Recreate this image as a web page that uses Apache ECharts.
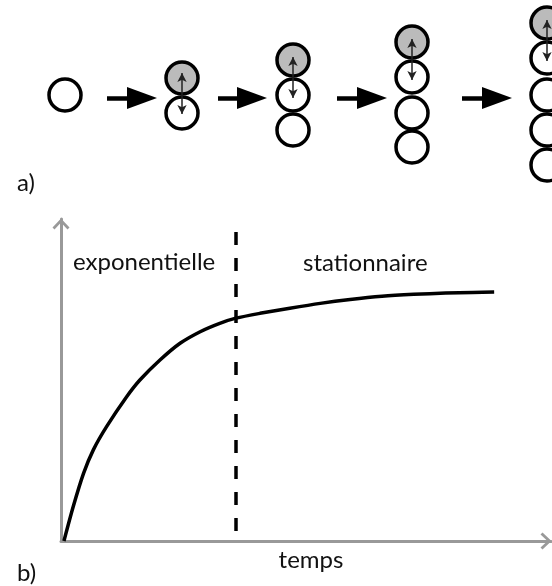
<!DOCTYPE html>
<html>
<head>
<meta charset="utf-8">
<script src="https://cdn.jsdelivr.net/npm/echarts@6/dist/echarts.min.js"></script>
<style>
  html, body { margin: 0; padding: 0; background: #fff; }
  #chart { width: 552px; height: 586px; }
</style>
</head>
<body>
<div id="chart"></div>
<script>
// panel a: cell columns (x position of each stage, y of each cell, first cell is the grey one)
const stageX = [65, 182, 293, 412, 547]
const stageCells = [
  [95],
  [78, 113],
  [60, 95, 130],
  [42, 77, 113, 147],
  [23, 58, 95, 130, 165]
]
// big black arrows between stages
const stepStart = [107, 218, 337, 462]
const stepHead = [142, 252, 372, 497]
const stepY = 98
// small double arrows inside the growing chains
const pushTop = [73, 57, 39, 20]
const pushBottom = [114, 98, 80, 61]

// panel b: growth curve
const timeValues = [0.6, 2.5, 4.6, 6.6, 9.3, 13.4, 16.1, 20.2, 24.3, 28.4, 32.4, 35.7, 40.6, 46.7, 52.9, 59, 65.5, 72, 78.5, 84, 88.4]
const sizeValues = [0, 10.7, 21.0, 28.3, 35.5, 44.8, 50.0, 56.2, 61.4, 65.0, 67.6, 69.2, 70.7, 72.3, 73.8, 75.0, 76.0, 76.6, 77.0, 77.2, 77.3]
const phaseLimit = 35.7
const phaseTop = 96

const FONT = 'Lato, "Open Sans", sans-serif'
const chevron = 'path://M0,9 L8.5,0 L17,9 L15,11 L8.5,4 L2,11 Z'

const chart = echarts.init(document.getElementById('chart'), null, { renderer: 'canvas' })

const greyCells = []
const whiteCells = []
stageCells.forEach((cells, i) => {
  cells.forEach((y, k) => {
    if (i > 0 && k === 0) greyCells.push([stageX[i], y])
    else whiteCells.push([stageX[i], y])
  })
})

const stepLines = stepStart.map((x, i) => [{ coord: [x, stepY] }, { coord: [stepHead[i], stepY] }])
const pushLines = pushTop.map((y, i) => [{ coord: [stageX[i + 1], y] }, { coord: [stageX[i + 1], pushBottom[i]] }])

const hiddenAxis = { show: false }
const bAxis = {
  type: 'value',
  min: 0,
  max: 100,
  axisLine: {
    show: true,
    symbol: ['none', chevron],
    symbolSize: [17, 11],
    symbolOffset: [0, -5],
    lineStyle: { color: '#999', width: 3 }
  },
  axisTick: { show: false },
  axisLabel: { show: false },
  splitLine: { show: false }
}

const label = (text, left, top) => ({
  type: 'text',
  left: left,
  top: top,
  style: { text: text, font: '24px ' + FONT, fill: '#111' }
})

chart.setOption({
  animation: false,
  grid: [
    { left: 0, right: 0, top: 0, height: 190 },
    { left: 61, right: 1, top: 219, bottom: 45 }
  ],
  xAxis: [
    { gridIndex: 0, type: 'value', min: 0, max: 552, ...hiddenAxis },
    {
      ...bAxis,
      gridIndex: 1,
      name: 'temps',
      nameLocation: 'middle',
      nameGap: 7,
      nameTextStyle: { color: '#111', fontSize: 24, fontFamily: FONT, verticalAlign: 'top', padding: [0, 0, 0, 10] }
    }
  ],
  yAxis: [
    { gridIndex: 0, type: 'value', min: 0, max: 190, inverse: true, ...hiddenAxis },
    { ...bAxis, gridIndex: 1 }
  ],
  graphic: [
    label('a)', 17, 171),
    label('b)', 17, 561),
    label('exponentielle', 73, 250),
    label('stationnaire', 303, 251)
  ],
  series: [
    {
      type: 'scatter',
      xAxisIndex: 0,
      yAxisIndex: 0,
      symbolSize: 32,
      itemStyle: { color: '#fff', borderColor: '#000', borderWidth: 3.5, opacity: 1 },
      data: whiteCells,
      silent: true,
      z: 2
    },
    {
      type: 'scatter',
      xAxisIndex: 0,
      yAxisIndex: 0,
      symbolSize: 32,
      itemStyle: { color: '#bbb', borderColor: '#000', borderWidth: 3.5, opacity: 1 },
      data: greyCells,
      silent: true,
      z: 3
    },
    {
      type: 'scatter',
      xAxisIndex: 0,
      yAxisIndex: 0,
      data: [],
      silent: true,
      z: 4,
      markLine: {
        silent: true,
        symbol: ['none', 'triangle'],
        symbolSize: [22, 30],
        label: { show: false },
        lineStyle: { color: '#000', width: 4.5, type: 'solid' },
        data: stepLines
      }
    },
    {
      type: 'scatter',
      xAxisIndex: 0,
      yAxisIndex: 0,
      data: [],
      silent: true,
      z: 5,
      markLine: {
        silent: true,
        symbol: ['arrow', 'arrow'],
        symbolSize: [7, 9],
        label: { show: false },
        lineStyle: { color: '#222', width: 1.5, type: 'solid' },
        data: pushLines
      }
    },
    {
      type: 'line',
      xAxisIndex: 1,
      yAxisIndex: 1,
      smooth: 0.25,
      showSymbol: false,
      lineStyle: { color: '#000', width: 3.5 },
      data: timeValues.map((t, i) => [t, sizeValues[i]]),
      silent: true,
      z: 3,
      markLine: {
        silent: true,
        symbol: ['none', 'none'],
        label: { show: false },
        lineStyle: { color: '#000', width: 3.5, type: [13, 13] },
        data: [[{ coord: [phaseLimit, phaseTop] }, { coord: [phaseLimit, 0] }]]
      }
    }
  ]
})
</script>
</body>
</html>
